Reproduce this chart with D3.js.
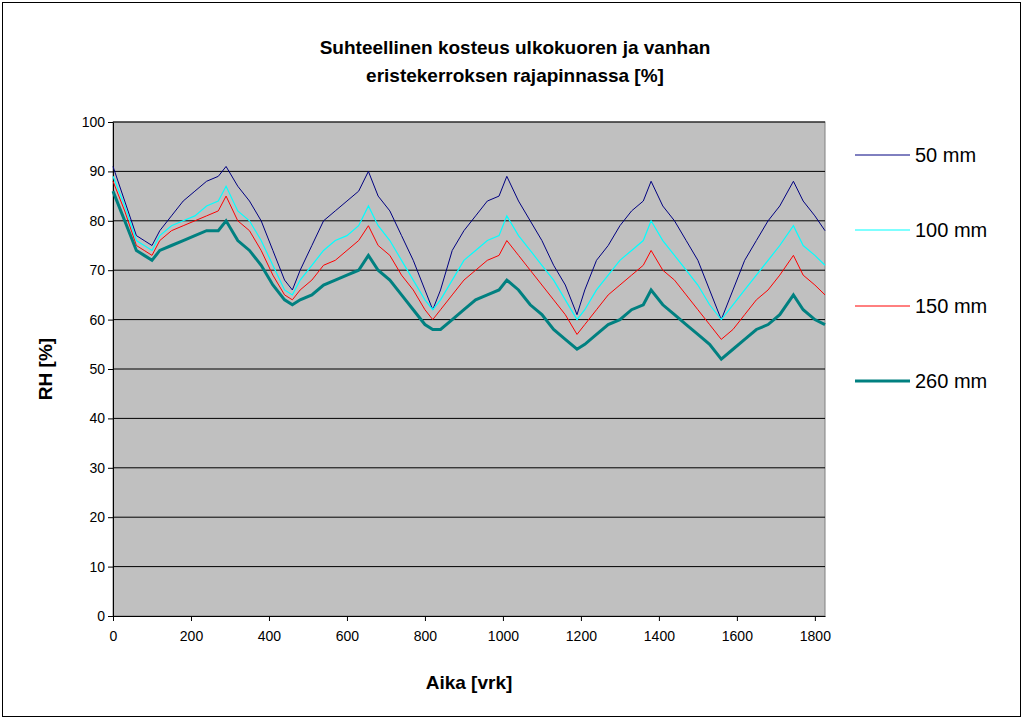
<!DOCTYPE html><html><head><meta charset="utf-8"><script src="https://cdn.jsdelivr.net/npm/d3@7"></script>
<style>body{margin:0;background:#fff}</style></head><body><svg id="c" width="1031" height="725"></svg><script>
const days=[0,30,60,80,100,120,150,180,210,240,270,290,320,350,380,410,440,460,480,510,540,570,600,630,655,680,710,740,770,800,820,840,870,900,930,960,990,1010,1040,1070,1100,1130,1160,1190,1210,1240,1270,1300,1330,1360,1380,1410,1440,1470,1500,1530,1560,1590,1620,1650,1680,1710,1745,1770,1800,1826];
const s50=[91,84,77,76,75,78,81,84,86,88,89,91,87,84,80,74,68,66,70,75,80,82,84,86,90,85,82,77,72,66,62,66,74,78,81,84,85,89,84,80,76,71,67,61,66,72,75,79,82,84,88,83,80,76,72,66,60,66,72,76,80,83,88,84,81,78];
const s100=[89,83,76,75,74,77,79,80,81,83,84,87,82,80,76,71,66,65,68,71,74,76,77,79,83,79,76,72,68,64,62,64,68,72,74,76,77,81,77,74,71,68,64,60,62,66,69,72,74,76,80,76,73,70,67,63,60,63,66,69,72,75,79,75,73,71];
const s150=[88,82,75,74,73,76,78,79,80,81,82,85,80,78,74,69,65,64,66,68,71,72,74,76,79,75,73,69,66,62,60,62,65,68,70,72,73,76,73,70,67,64,61,57,59,62,65,67,69,71,74,70,68,65,62,59,56,58,61,64,66,69,73,69,67,65];
const s260=[86,80,74,73,72,74,75,76,77,78,78,80,76,74,71,67,64,63,64,65,67,68,69,70,73,70,68,65,62,59,58,58,60,62,64,65,66,68,66,63,61,58,56,54,55,57,59,60,62,63,66,63,61,59,57,55,52,54,56,58,59,61,65,62,60,59];
const names=["50 mm","100 mm","150 mm","260 mm"];
const colors=["#000080","#00FFFF","#FF0000","#008080"];
const widths=[1,1.2,1,3];
const xTicks=[0,200,400,600,800,1000,1200,1400,1600,1800];
const yTicks=[0,10,20,30,40,50,60,70,80,90,100];
const series=[s50,s100,s150,s260];
const svg=d3.select("#c");
svg.append("rect").attr("x",2.5).attr("y",2.5).attr("width",1018).attr("height",714).attr("fill","#fff").attr("stroke","#000");
const L=113,R=825,T=122,B=616;
const x=d3.scaleLinear().domain([0,1826]).range([L,R]);
const y=d3.scaleLinear().domain([0,100]).range([B,T]);
svg.append("rect").attr("x",L).attr("y",T).attr("width",R-L).attr("height",B-T).attr("fill","#C0C0C0").attr("stroke","#808080");
svg.append("g").selectAll("line").data(yTicks.slice(1)).join("line").attr("x1",L).attr("x2",R).attr("y1",d=>y(d)).attr("y2",d=>y(d)).attr("stroke","#000");
const ya=svg.append("g").attr("transform",`translate(${L},0)`).call(d3.axisLeft(y).tickValues(yTicks).tickFormat(d3.format("d")).tickSize(5).tickSizeOuter(0));
const xa=svg.append("g").attr("transform",`translate(0,${B})`).call(d3.axisBottom(x).tickValues(xTicks).tickFormat(d3.format("d")).tickSize(5).tickSizeOuter(0));
[ya,xa].forEach(a=>{a.selectAll("text").attr("font-family","Arial, Liberation Sans").attr("font-size",14).attr("fill","#000");a.select(".domain").attr("stroke","#000");});
xa.selectAll("text").attr("dy","1.2em");
const line=d3.line().x((d,i)=>x(days[i])).y(d=>y(d));
series.forEach((s,k)=>svg.append("path").datum(s).attr("d",line).attr("fill","none").attr("stroke",colors[k]).attr("stroke-width",widths[k]));
const ly=[155,230,306,381];
names.forEach((n,k)=>{svg.append("line").attr("x1",855).attr("x2",910).attr("y1",ly[k]).attr("y2",ly[k]).attr("stroke",colors[k]).attr("stroke-width",widths[k]);
svg.append("text").attr("x",915).attr("y",ly[k]+7).text(n).attr("font-family","Arial, Liberation Sans").attr("font-size",20);});
const tf={"font-family":"Arial, Liberation Sans","font-weight":"bold"};
function t(xx,yy,s,sz,rot){const e=svg.append("text").attr("x",xx).attr("y",yy).attr("text-anchor","middle").attr("font-size",sz).text(s);for(const k in tf)e.attr(k,tf[k]);if(rot)e.attr("transform",`rotate(-90,${xx},${yy})`);}
t(515,54,"Suhteellinen kosteus ulkokuoren ja vanhan",19);
t(515,82,"eristekerroksen rajapinnassa [%]",19);
t(469,689,"Aika [vrk]",19);
t(52,369,"RH [%]",19,true);
</script></body></html>
